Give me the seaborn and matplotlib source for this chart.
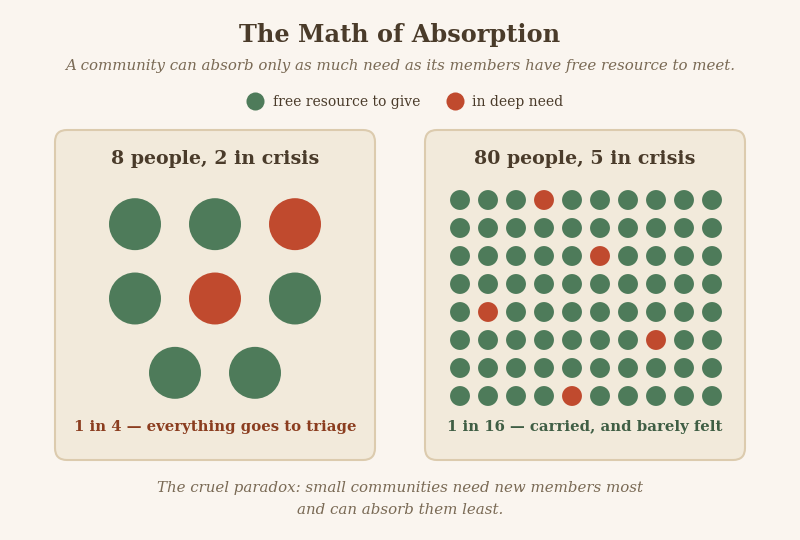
import numpy as np
import pandas as pd
import matplotlib.pyplot as plt
import seaborn as sns
from matplotlib.patches import FancyBboxPatch
from matplotlib.lines import Line2D

# data
small_rows = [3, 3, 2]          # people per row, small community
small_crisis = [2, 4]           # index of people in crisis
large_cols, large_rows = 10, 8
large_crisis = [3, 25, 41, 57, 74]

panel_titles = ["8 people, 2 in crisis", "80 people, 5 in crisis"]
panel_notes = ["1 in 4 — everything goes to triage", "1 in 16 — carried, and barely felt"]
legend_labels = ["free resource to give", "in deep need"]

GREEN = "#4e7b5a"
RED = "#c04a2e"
BG = "#faf5ef"
PANEL = "#f2eadb"
EDGE = "#dccbae"
DARK = "#4a3b2a"
MUTED = "#7a6a55"

sns.set_theme(style="white")
plt.rcParams["font.family"] = ["DejaVu Serif", "DejaVu Sans"]


def small_people():
    rec = []
    i = 0
    width = max(small_rows)
    for r, n in enumerate(small_rows):
        off = (width - n) / 2
        for c in range(n):
            rec.append(dict(x=c + off, y=r, status="need" if i in small_crisis else "free"))
            i += 1
    return pd.DataFrame(rec)


def large_people():
    idx = np.arange(large_cols * large_rows)
    return pd.DataFrame(dict(x=idx % large_cols, y=idx // large_cols,
                             status=np.where(np.isin(idx, large_crisis), "need", "free")))


W, H = 800, 540
fig = plt.figure(figsize=(W / 100, H / 100), dpi=100, facecolor=BG)
bg = fig.add_axes([0, 0, 1, 1])
bg.set_xlim(0, W)
bg.set_ylim(H, 0)
bg.axis("off")
bg.set_facecolor(BG)

palette = {"free": GREEN, "need": RED}


def px_axes(x0, y0, x1, y1):
    return fig.add_axes([x0 / W, 1 - y1 / H, (x1 - x0) / W, (y1 - y0) / H])


# panels
for i, x0 in enumerate([55, 425]):
    bg.add_patch(FancyBboxPatch((x0, 130), 320, 330, boxstyle="round,pad=0,rounding_size=12",
                                facecolor=PANEL, edgecolor=EDGE, linewidth=1.5))
    bg.text(x0 + 160, 159, panel_titles[i], ha="center", va="center",
            fontsize=13.7, fontweight="bold", color=DARK)
    bg.text(x0 + 160, 427, panel_notes[i], ha="center", va="center",
            fontsize=10.7, fontweight="bold", color=["#8b3d1f", "#3f5e44"][i])

# small community dots
ax1 = px_axes(95, 187, 335, 410)
sns.scatterplot(data=small_people(), x="x", y="y", hue="status", palette=palette,
                s=1400, linewidth=0, legend=False, ax=ax1)
ax1.set_xlim(-0.5, 2.5)
ax1.set_ylim(2.5, -0.5)
ax1.axis("off")
ax1.patch.set_alpha(0)

# large community dots
ax2 = px_axes(446, 186, 726, 410)
sns.scatterplot(data=large_people(), x="x", y="y", hue="status", palette=palette,
                s=205, linewidth=0, legend=False, ax=ax2)
ax2.set_xlim(-0.5, large_cols - 0.5)
ax2.set_ylim(large_rows - 0.5, -0.5)
ax2.axis("off")
ax2.patch.set_alpha(0)

# titles
bg.text(400, 35, "The Math of Absorption", ha="center", va="center",
        fontsize=17.3, fontweight="bold", color=DARK)
bg.text(400, 66, "A community can absorb only as much need as its members have free resource to meet.",
        ha="center", va="center", fontsize=10.8, style="italic", color=MUTED)

handles = [Line2D([], [], marker="o", linestyle="", markersize=13, markerfacecolor=c,
                  markeredgewidth=0) for c in [GREEN, RED]]
fig.legend(handles, legend_labels, loc="center", bbox_to_anchor=(0.5 + 2.5 / W, 1 - 102 / H), ncol=2,
           frameon=False, fontsize=10, labelcolor=DARK, handletextpad=0.25, columnspacing=1.5)

bg.text(400, 499, "The cruel paradox: small communities need new members most\nand can absorb them least.",
        ha="center", va="center", fontsize=10.8, style="italic", color=MUTED, linespacing=1.75)

fig.savefig("out.png", dpi=100, facecolor=BG)
